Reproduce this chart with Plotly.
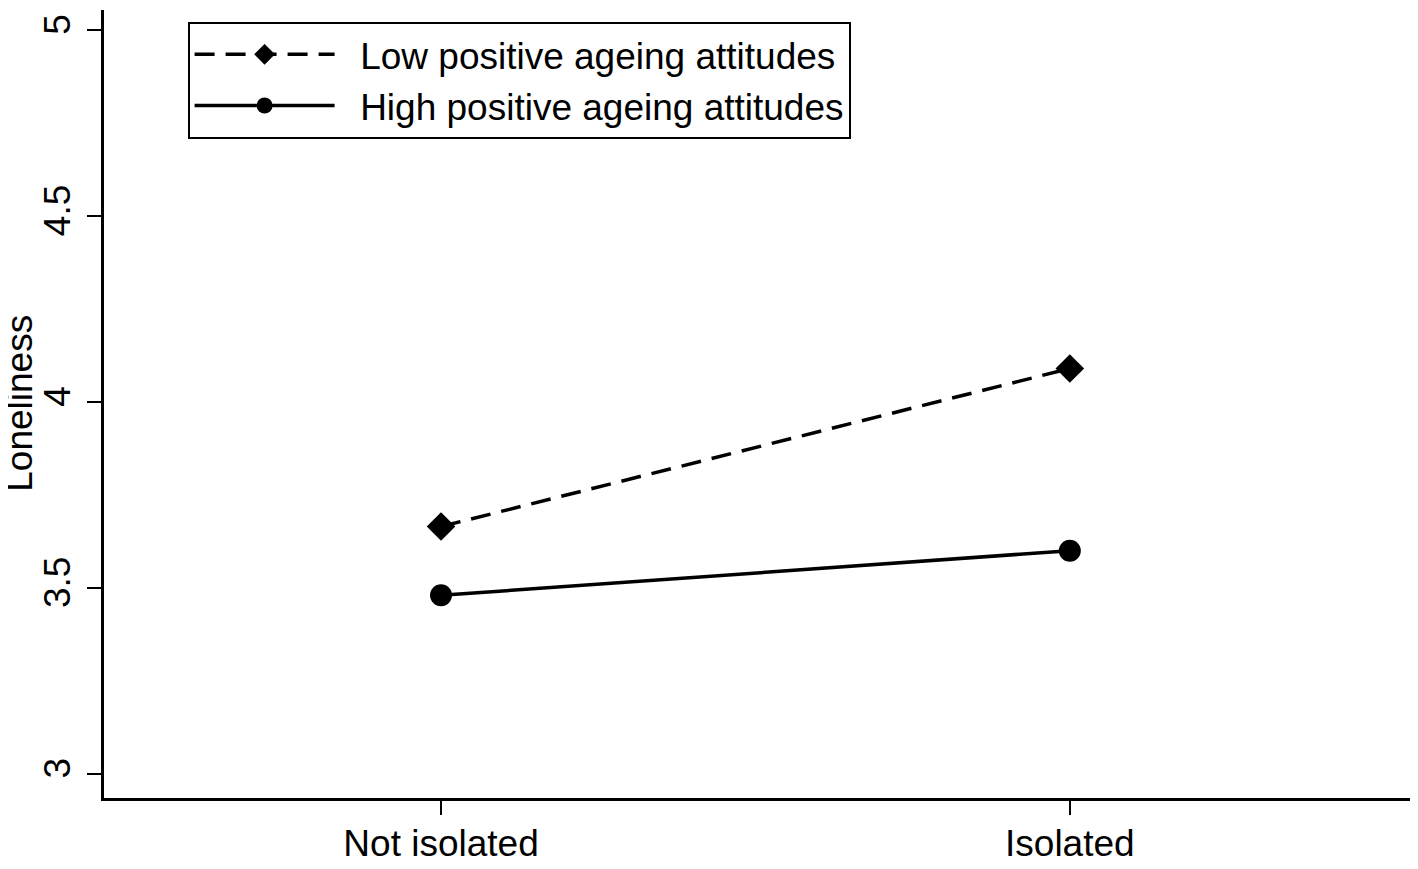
import plotly.graph_objects as go

# Data
categories = ['Not isolated', 'Isolated']
cat_pos = [0, 1]
low_attitudes = [3.665, 4.09]
high_attitudes = [3.48, 3.60]
y_ticks = [3, 3.5, 4, 4.5, 5]
y_tick_labels = ['3', '3.5', '4', '4.5', '5']
series_names = ['Low positive ageing attitudes', 'High positive ageing attitudes']
y_title = 'Loneliness'

fig = go.Figure()

# a couple of nbsp so the legend text sits a bit away from the line sample
fig.add_trace(go.Scatter(
    x=cat_pos, y=low_attitudes, mode='lines+markers',
    name='\u00a0\u00a0' + series_names[0],
    line=dict(color='black', width=3.5, dash='20px,11px'),
    marker=dict(symbol='diamond', size=22, color='black'),
))
fig.add_trace(go.Scatter(
    x=cat_pos, y=high_attitudes, mode='lines+markers',
    name='\u00a0\u00a0' + series_names[1],
    line=dict(color='black', width=3.5),
    marker=dict(symbol='circle', size=22, color='black'),
))

# page body has an 8px margin, so the figure is a bit smaller than the window
fig.update_layout(
    width=1402, height=853,
    margin=dict(l=96, r=0, t=2, b=63),
    paper_bgcolor='white', plot_bgcolor='white',
    font=dict(family='Liberation Sans, Arial, sans-serif', color='black', size=37),
    showlegend=True,
    legend=dict(
        x=0.064, y=0.985, xanchor='left', yanchor='top',
        bordercolor='black', borderwidth=2, bgcolor='white',
        font=dict(size=37), itemwidth=140, tracegroupgap=0,
    ),
    xaxis=dict(
        range=[-0.536, 1.541], tickmode='array', tickvals=cat_pos, ticktext=categories,
        showline=True, linecolor='black', linewidth=3, showgrid=False, zeroline=False,
        ticks='outside', ticklen=14, tickwidth=2, tickcolor='black',
        ticklabelstandoff=-3, tickfont=dict(size=37), automargin=False,
    ),
    yaxis=dict(
        range=[2.935, 5.054], tickmode='array', tickvals=y_ticks, ticktext=y_tick_labels,
        showline=True, linecolor='black', linewidth=3, showgrid=False, zeroline=False,
        ticks='outside', ticklen=14, tickwidth=2, tickcolor='black', tickangle=-90,
        tickfont=dict(size=37), automargin=False, ticklabelstandoff=2,
    ),
)

# y axis title as an annotation so it can sit right at the left edge
fig.add_annotation(
    text=y_title, xref='paper', yref='paper', x=-106 / 1306, y=0.501,
    xanchor='left', yanchor='middle', textangle=-90, showarrow=False,
    font=dict(size=37), borderpad=0,
)

fig.write_html('out.html')
